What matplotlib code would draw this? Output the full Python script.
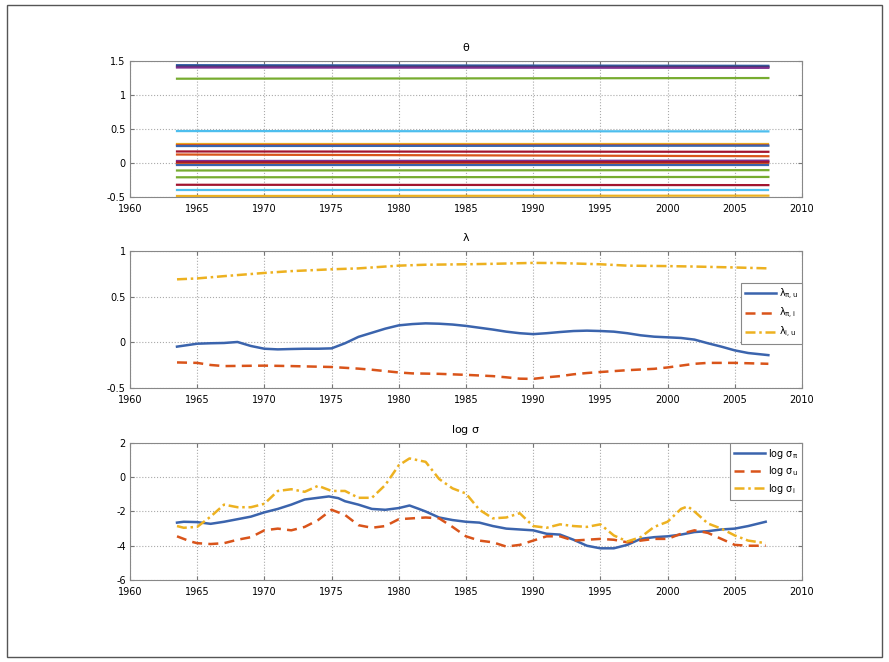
import matplotlib
matplotlib.use("Agg")
import matplotlib.pyplot as plt
from matplotlib.patches import Rectangle
from matplotlib.ticker import FuncFormatter

plt.rcParams['font.family'] = ['Liberation Sans Narrow', 'DejaVu Sans']
plt.rcParams['mathtext.fontset'] = 'dejavusans'
plt.rcParams['mathtext.default'] = 'regular'
plt.rcParams['axes.unicode_minus'] = False

# ---- theta: roughly constant coefficient paths (start, end values) ----
theta_span = [1963.5, 2007.5]
theta_start = [1.44, 1.42, 1.405, 1.24, 0.47, 0.28, 0.265, 0.25, 0.17, 0.125,
               0.03, 0.01, -0.01, -0.03, -0.11, -0.21, -0.32, -0.40, -0.485]
theta_end = [1.43, 1.415, 1.40, 1.25, 0.465, 0.28, 0.265, 0.255, 0.165, 0.10,
             0.035, 0.015, -0.01, -0.03, -0.105, -0.205, -0.325, -0.40, -0.48]
theta_colors = ['#3B64AD', '#2E3B6B', '#7E2F8E', '#77AC30', '#4DBEEE', '#EDB120', '#D9541A',
                '#3B64AD', '#A2142F', '#D9541A', '#7E2F8E', '#A2142F', '#D9541A', '#3B64AD',
                '#77AC30', '#77AC30', '#A2142F', '#4DBEEE', '#EDB120']

# ---- lambda ----
lam_pu_x = [1963.5, 1965, 1966, 1967, 1968, 1969, 1970, 1971, 1972, 1973, 1974, 1975, 1976,
            1977, 1978, 1979, 1980, 1981, 1982, 1983, 1984, 1985, 1986, 1987, 1988, 1989,
            1990, 1991, 1992, 1993, 1994, 1995, 1996, 1997, 1998, 1999, 2000, 2001, 2002,
            2003, 2004, 2005, 2006, 2007.5]
lam_pu = [-0.047, -0.015, -0.01, -0.007, 0.004, -0.04, -0.07, -0.077, -0.073, -0.07, -0.07,
          -0.066, -0.01, 0.06, 0.105, 0.15, 0.186, 0.2, 0.208, 0.204, 0.195, 0.18, 0.16, 0.14,
          0.117, 0.1, 0.09, 0.1, 0.113, 0.124, 0.128, 0.124, 0.117, 0.1, 0.077, 0.062, 0.055,
          0.048, 0.03, -0.01, -0.047, -0.088, -0.117, -0.14]
lam_pi_x = [1963.5, 1965, 1966, 1967, 1970, 1972, 1975, 1977, 1978, 1980, 1981, 1983, 1985,
            1987, 1988, 1989, 1990, 1991, 1992, 1993, 1994, 1995, 1997, 1999, 2000, 2001,
            2002, 2003, 2005, 2007.5]
lam_pi = [-0.22, -0.225, -0.248, -0.26, -0.255, -0.26, -0.27, -0.288, -0.3, -0.33, -0.34,
          -0.345, -0.356, -0.37, -0.383, -0.398, -0.4, -0.383, -0.37, -0.35, -0.336, -0.325,
          -0.305, -0.29, -0.275, -0.255, -0.235, -0.225, -0.225, -0.235]
lam_iu_x = [1963.5, 1965, 1967, 1970, 1972, 1975, 1977, 1980, 1982, 1985, 1987, 1990, 1992,
            1995, 1997, 2000, 2002, 2005, 2007.5]
lam_iu = [0.69, 0.70, 0.725, 0.76, 0.78, 0.80, 0.81, 0.84, 0.85, 0.855, 0.86, 0.87, 0.868,
          0.855, 0.84, 0.835, 0.83, 0.82, 0.81]

# ---- log sigma ----
sig_p_x = [1963.5, 1964, 1965, 1966, 1967, 1968, 1969, 1970, 1971, 1972, 1973, 1974, 1974.8,
           1975.5, 1976, 1977, 1978, 1979, 1980, 1980.8, 1981.5, 1982, 1983, 1984, 1985,
           1986, 1987, 1988, 1989, 1990, 1991, 1992, 1993, 1994, 1995, 1996, 1997, 1998,
           1999, 2000, 2001, 2002, 2003, 2004, 2005, 2006, 2007.3]
sig_p = [-2.65, -2.6, -2.62, -2.72, -2.6, -2.45, -2.3, -2.05, -1.85, -1.6, -1.3, -1.2, -1.12,
         -1.22, -1.4, -1.6, -1.85, -1.9, -1.8, -1.65, -1.85, -2.0, -2.35, -2.5, -2.6, -2.65,
         -2.85, -3.0, -3.05, -3.1, -3.3, -3.35, -3.65, -4.0, -4.15, -4.15, -3.95, -3.6, -3.5,
         -3.45, -3.35, -3.2, -3.15, -3.05, -3.0, -2.85, -2.6]
sig_u_x = [1963.5, 1964.5, 1965, 1966, 1967, 1968, 1969, 1970, 1971, 1972, 1973, 1974, 1975,
           1976, 1977, 1978, 1979, 1980, 1981, 1982, 1983, 1984, 1985, 1986, 1987, 1988,
           1989, 1990, 1991, 1992, 1993, 1994, 1995, 1996, 1997, 1998, 1999, 2000, 2001,
           2002, 2003, 2004, 2005, 2006, 2007.3]
sig_u = [-3.45, -3.75, -3.85, -3.9, -3.85, -3.65, -3.5, -3.1, -3.0, -3.1, -2.9, -2.5, -1.9,
         -2.2, -2.8, -2.95, -2.85, -2.45, -2.4, -2.35, -2.4, -2.9, -3.45, -3.7, -3.8, -4.05,
         -3.95, -3.7, -3.45, -3.45, -3.7, -3.65, -3.6, -3.65, -3.8, -3.7, -3.6, -3.6, -3.3,
         -3.1, -3.25, -3.6, -3.95, -4.0, -4.0]
sig_i_x = [1963.5, 1964, 1965, 1966, 1967, 1968, 1969, 1970, 1971, 1972, 1973, 1974, 1975,
           1976, 1977, 1978, 1979, 1980, 1980.8, 1982, 1983, 1984, 1985, 1986, 1987, 1988,
           1989, 1990, 1991, 1992, 1993, 1994, 1995, 1996, 1997, 1998, 1999, 2000, 2001,
           2001.5, 2002, 2003, 2004, 2005, 2006, 2007.3]
sig_i = [-2.85, -2.95, -2.9, -2.3, -1.6, -1.75, -1.75, -1.55, -0.8, -0.7, -0.85, -0.5, -0.8,
         -0.8, -1.2, -1.2, -0.45, 0.7, 1.1, 0.9, -0.1, -0.65, -0.95, -1.9, -2.4, -2.35, -2.1,
         -2.85, -2.95, -2.75, -2.85, -2.9, -2.75, -3.4, -3.75, -3.5, -2.9, -2.6, -1.85, -1.7,
         -2.0, -2.7, -3.0, -3.4, -3.7, -3.85]

years = list(range(1960, 2011, 5))
blue, red, yellow = '#3B64AD', '#D9541A', '#EDB120'

fig = plt.figure(figsize=(8.89, 6.62), dpi=100)
fig.patches.append(Rectangle((0.008, 0.008), 0.984, 0.984, transform=fig.transFigure,
                             fill=False, edgecolor='#555555', linewidth=1.0))

fmt = FuncFormatter(lambda v, p: '%g' % v)


def style(ax, ylim, yticks, title):
    ax.set_xlim(1960, 2010)
    ax.set_xticks(years)
    ax.set_ylim(*ylim)
    ax.set_yticks(yticks)
    ax.yaxis.set_major_formatter(fmt)
    ax.grid(True, linestyle=':', color='#aaaaaa', linewidth=0.8)
    ax.tick_params(direction='in', top=True, right=True, labelsize=7,
                   length=3, color='#777777', pad=3)
    ax.tick_params(axis='x', pad=5)
    for s in ax.spines.values():
        s.set_color('#888888')
        s.set_linewidth(0.8)
    ax.set_title(title, fontsize=8, pad=7)


ax1 = fig.add_axes([0.1462, 0.7024, 0.7559, 0.2054])
for y0, y1, c in zip(theta_start, theta_end, theta_colors):
    ax1.plot(theta_span, [y0, y1], color=c, linewidth=1.6)
style(ax1, (-0.5, 1.5), [-0.5, 0, 0.5, 1, 1.5], r'$\theta$')

ax2 = fig.add_axes([0.1462, 0.4139, 0.7559, 0.2069])
ax2.plot(lam_pu_x, lam_pu, color=blue, linewidth=1.8, label=r'$\lambda_{\pi,u}$')
ax2.plot(lam_pi_x, lam_pi, color=red, linewidth=1.8, linestyle=(0, (4, 2.5)),
         label=r'$\lambda_{\pi,i}$')
ax2.plot(lam_iu_x, lam_iu, color=yellow, linewidth=1.8, linestyle=(0, (4, 1.5, 1, 1.5)),
         label=r'$\lambda_{i,u}$')
style(ax2, (-0.5, 1), [-0.5, 0, 0.5, 1], r'$\lambda$')
leg2 = ax2.legend(loc='upper right', bbox_to_anchor=(1.0, 0.77), fontsize=7,
                  handlelength=3.2, fancybox=False, framealpha=1, edgecolor='#888888',
                  borderpad=0.4, labelspacing=0.45, handletextpad=0.3, borderaxespad=0)
leg2.get_frame().set_linewidth(0.8)

ax3 = fig.add_axes([0.1462, 0.1239, 0.7559, 0.2069])
ax3.plot(sig_p_x, sig_p, color=blue, linewidth=1.8, label=r'log $\sigma_{\pi}$')
ax3.plot(sig_u_x, sig_u, color=red, linewidth=1.8, linestyle=(0, (4, 2.5)),
         label=r'log $\sigma_{u}$')
ax3.plot(sig_i_x, sig_i, color=yellow, linewidth=1.8, linestyle=(0, (4, 1.5, 1, 1.5)),
         label=r'log $\sigma_{i}$')
style(ax3, (-6, 2), [-6, -4, -2, 0, 2], r'log $\sigma$')
leg3 = ax3.legend(loc='upper right', bbox_to_anchor=(1.0, 1.0), fontsize=7,
                  handlelength=3.2, fancybox=False, framealpha=1, edgecolor='#888888',
                  borderpad=0.4, labelspacing=0.35, handletextpad=0.3, borderaxespad=0)
leg3.get_frame().set_linewidth(0.8)

fig.savefig('out.png', dpi=100)
